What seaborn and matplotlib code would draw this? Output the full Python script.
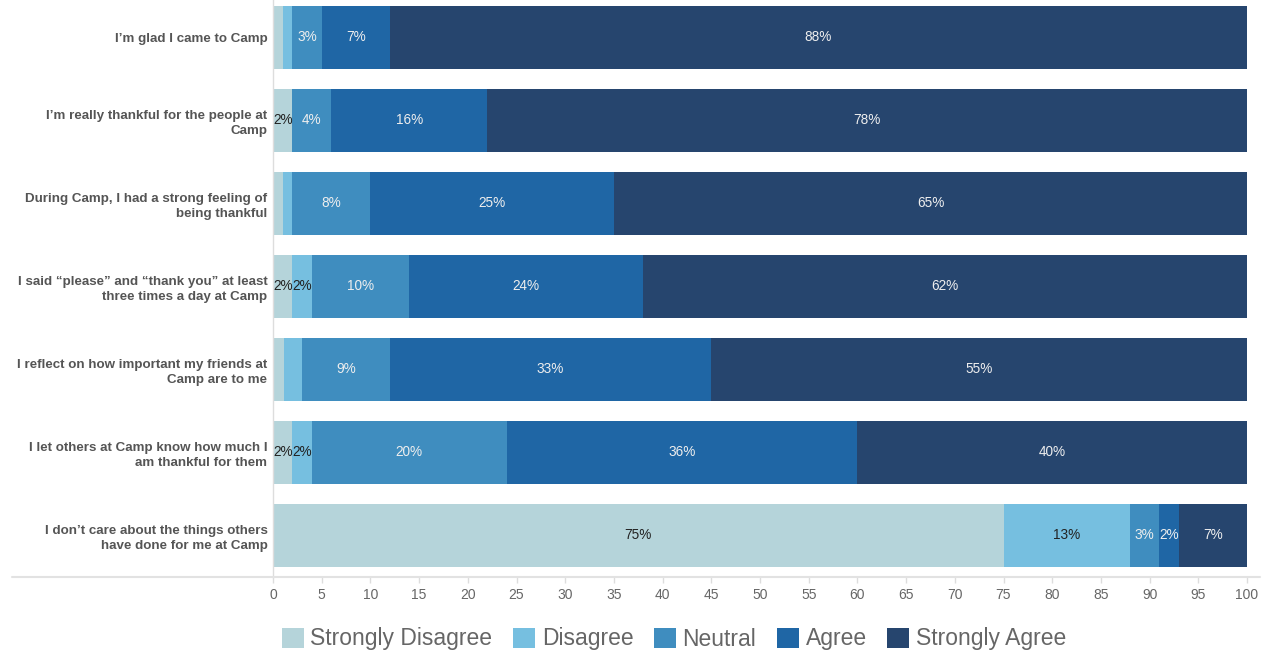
import numpy as np
import pandas as pd
import matplotlib
matplotlib.use("Agg")
import matplotlib.pyplot as plt
from matplotlib.lines import Line2D
from matplotlib.patches import Patch
import seaborn as sns

categories = [
    "I\u2019m glad I came to Camp",
    "I\u2019m really thankful for the people at\nCamp",
    "During Camp, I had a strong feeling of\nbeing thankful",
    "I said \u201cplease\u201d and \u201cthank you\u201d at least\nthree times a day at Camp",
    "I reflect on how important my friends at\nCamp are to me",
    "I let others at Camp know how much I\nam thankful for them",
    "I don\u2019t care about the things others\nhave done for me at Camp",
]
levels = ["Strongly Disagree", "Disagree", "Neutral", "Agree", "Strongly Agree"]
strongly_disagree = [1, 2, 1, 2, 1.1, 2, 75]
disagree = [1, 0, 1, 2, 1.9, 2, 13]
neutral = [3, 4, 8, 10, 9, 20, 3]
agree = [7, 16, 25, 24, 33, 36, 2]
strongly_agree = [88, 78, 65, 62, 55, 40, 7]
colors = ["#b5d4da", "#76bfe0", "#3f8dbf", "#1f66a5", "#26456e"]
label_colors = ["#222222", "#222222", "#eeeeee", "#eeeeee", "#eeeeee"]
xticks = list(range(0, 101, 5))

series = [strongly_disagree, disagree, neutral, agree, strongly_agree]
df = pd.DataFrame({lvl: vals for lvl, vals in zip(levels, series)})
df["Statement"] = categories
cum = df[levels].cumsum(axis=1)

sns.set_theme(style="white")
plt.rcParams["font.family"] = ["Liberation Sans", "DejaVu Sans"]

fig = plt.figure(figsize=(12.66, 6.55), dpi=100)
ax = fig.add_axes([273 / 1266, 1 - 577 / 655, 974 / 1266, 577 / 655])

# draw cumulative bars from last level to first (stacking)
for lvl, col in reversed(list(zip(levels, colors))):
    d = pd.DataFrame({"Statement": categories, "v": cum[lvl].values})
    sns.barplot(data=d, x="v", y="Statement", order=categories, color=col,
                orient="h", width=0.76, ax=ax, saturation=1, linewidth=0,
                errorbar=None)

# segment labels
for i in range(len(categories)):
    for j, lvl in enumerate(levels):
        v = df.loc[i, lvl]
        if v < 2:
            continue
        left = cum.loc[i, lvl] - v
        ax.text(left + v / 2, i, f"{round(v):d}%", ha="center", va="center",
                fontsize=9.8, color=label_colors[j])

ax.set_xlim(0, 100)
ax.set_ylim(6.5, -0.45)
ax.set_xticks(xticks)
ax.set_xticklabels([str(t) for t in xticks], color="#666666", fontsize=10)
ax.tick_params(axis="x", length=4, color="#dddddd", width=1, pad=4, bottom=True)
ax.tick_params(axis="y", length=0, pad=4)
ax.set_yticks(range(len(categories)))
ax.set_yticklabels(categories, fontsize=9.6, fontweight="bold", color="#555555",
                   linespacing=1.3)
ax.set_xlabel("")
ax.set_ylabel("")
for s in ["top", "right", "bottom"]:
    ax.spines[s].set_visible(False)
ax.spines["left"].set_color("#dddddd")
ax.spines["left"].set_linewidth(1)

# extended baseline
fig.add_artist(Line2D([12 / 1266, 1260 / 1266], [1 - 576.5 / 655, 1 - 576.5 / 655],
                      color="#e2e2e2", lw=1.5, transform=fig.transFigure))

handles = [Patch(facecolor=c, edgecolor="none", label=l) for c, l in zip(colors, levels)]
leg = fig.legend(handles=handles, loc="center", bbox_to_anchor=(674 / 1266, 1 - 639 / 655),
                 ncol=5, frameon=False, fontsize=16.5, handlelength=0.95, handleheight=0.95,
                 handletextpad=0.3, columnspacing=0.9)
for t in leg.get_texts():
    t.set_color("#666666")

fig.savefig("out.png", dpi=100)
